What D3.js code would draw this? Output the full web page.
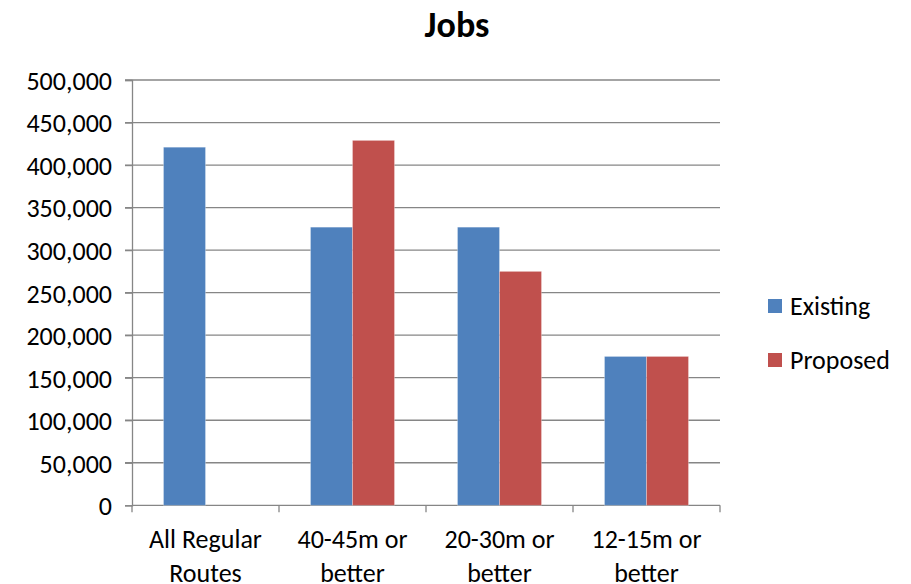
<!DOCTYPE html>
<html lang="en">
<head>
    <meta charset="UTF-8">
    <title>Jobs</title>
    <script src="https://d3js.org/d3.v7.min.js"></script>
    <style>
        body {
            margin: 0;
            background: #fff;
        }
        svg text {
            font-family: Carlito, Calibri, Lato, "Open Sans", sans-serif;
            fill: #000;
        }
        .grid line { stroke: #868686; stroke-width: 1.3px; }
        .axis path, .axis line { stroke: #868686; stroke-width: 1.3px; }
        .axis text { font-size: 26px; }
    </style>
</head>
<body>
    <div id="chart"></div>
    <script>
        const categories = [["All Regular", "Routes"], ["40-45m or", "better"], ["20-30m or", "better"], ["12-15m or", "better"]];
        const seriesNames = ["Existing", "Proposed"];
        const existing = [421000, 327000, 327000, 175000];
        const proposed = [null, 429000, 275000, 175000];
        const yTicks = [0, 50000, 100000, 150000, 200000, 250000, 300000, 350000, 400000, 450000, 500000];
        const colors = ["#4F81BD", "#C0504D"];

        const width = 911, height = 584;
        const plotLeft = 132, plotRight = 720, plotTop = 80, plotBottom = 505.3;

        const svg = d3.select("#chart").append("svg")
            .attr("width", width)
            .attr("height", height);

        const x = d3.scaleBand()
            .domain(d3.range(categories.length))
            .range([plotLeft, plotRight]);

        const y = d3.scaleLinear()
            .domain([0, 500000])
            .range([plotBottom, plotTop]);

        // gridlines
        svg.append("g").attr("class", "grid")
            .selectAll("line")
            .data(yTicks.slice(1))
            .enter().append("line")
            .attr("x1", plotLeft - 7).attr("x2", plotRight)
            .attr("y1", d => y(d)).attr("y2", d => y(d));

        // y axis
        const yAxis = svg.append("g").attr("class", "axis")
            .attr("transform", `translate(${plotLeft},0)`)
            .call(d3.axisLeft(y).tickValues(yTicks).tickSize(7).tickPadding(13)
                .tickFormat(d3.format(",")));
        yAxis.attr("font-family", null);
        yAxis.selectAll("text").attr("dy", "0.36em");

        // x axis
        const xAxis = svg.append("g").attr("class", "axis")
            .attr("transform", `translate(0,${plotBottom})`);
        xAxis.append("line").attr("x1", plotLeft).attr("x2", plotRight);
        xAxis.selectAll(".tk")
            .data(d3.range(categories.length + 1))
            .enter().append("line")
            .attr("x1", d => plotLeft + d * x.bandwidth())
            .attr("x2", d => plotLeft + d * x.bandwidth())
            .attr("y1", 0).attr("y2", 7);
        const lbl = xAxis.selectAll(".lbl")
            .data(categories)
            .enter().append("text")
            .attr("text-anchor", "middle")
            .attr("x", (d, i) => x(i) + x.bandwidth() / 2);
        lbl.append("tspan").attr("y", 43).text(d => d[0]);
        lbl.append("tspan").attr("y", 77)
            .attr("x", (d, i) => x(i) + x.bandwidth() / 2).text(d => d[1]);

        // bars
        const barW = x.bandwidth() / 3.5;
        const data = [existing, proposed];
        data.forEach((vals, s) => {
            svg.append("g")
                .selectAll("rect")
                .data(vals.map((v, i) => ({ v, i })).filter(d => d.v != null))
                .enter().append("rect")
                .attr("x", d => x(d.i) + x.bandwidth() / 2 - barW + s * barW)
                .attr("width", barW)
                .attr("y", d => y(d.v))
                .attr("height", d => y(0) - y(d.v))
                .attr("fill", colors[s])
                .attr("stroke", "rgba(255,255,255,0.35)")
                .attr("stroke-width", 0.8);
        });

        // title
        svg.append("text")
            .attr("x", 457).attr("y", 37)
            .attr("text-anchor", "middle")
            .style("font-size", "36px")
            .style("font-weight", "bold")
            .text("Jobs");

        // legend
        const legend = svg.append("g").attr("transform", "translate(768,299)");
        seriesNames.forEach((name, i) => {
            const g = legend.append("g").attr("transform", `translate(0,${i * 54})`);
            g.append("rect").attr("width", 14).attr("height", 14).attr("fill", colors[i]);
            g.append("text").attr("x", 22).attr("y", 15.5)
                .style("font-size", "26px").text(name);
        });
    </script>
</body>
</html>
